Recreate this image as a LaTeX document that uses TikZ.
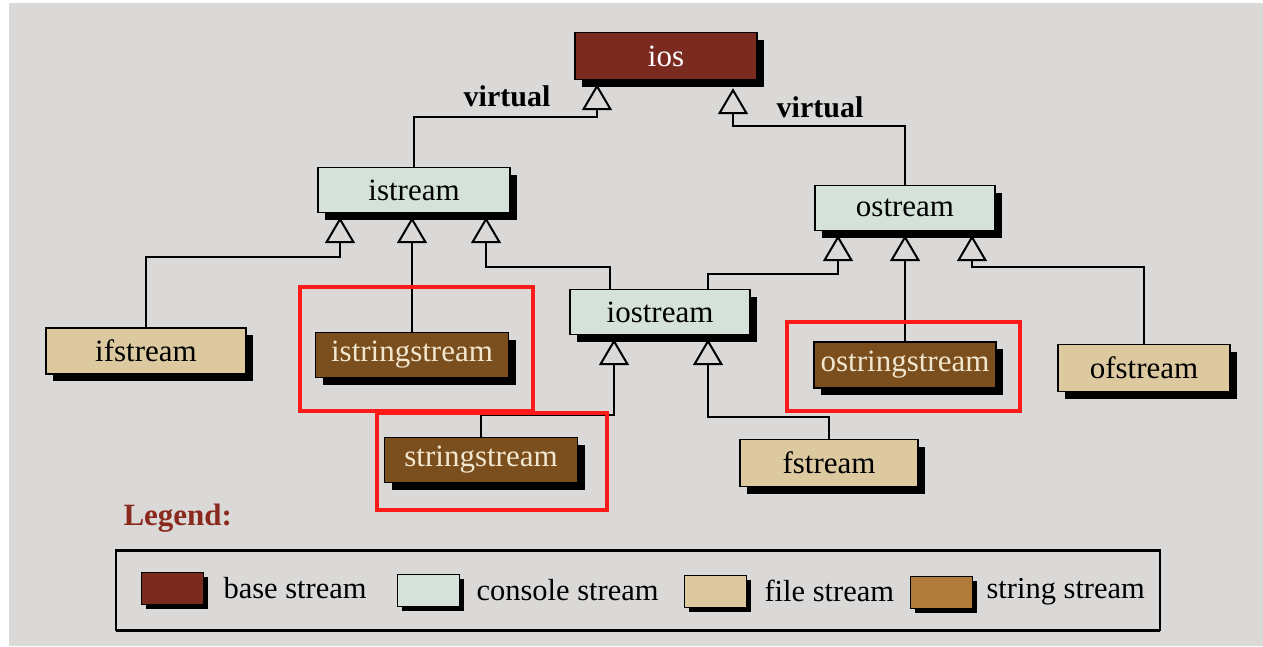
\documentclass[tikz,border=0pt]{standalone}
\usepackage{fontspec}
\setmainfont{Liberation Serif}
\usetikzlibrary{arrows.meta,shadows}

\definecolor{paper}{HTML}{DAD9D7}
\definecolor{basec}{HTML}{7A2A1F}
\definecolor{consc}{HTML}{D4E2DA}
\definecolor{filec}{HTML}{DCC99F}
\definecolor{strc}{HTML}{7B4E1E}
\definecolor{strswatch}{HTML}{B07A38}
\definecolor{strtext}{HTML}{F1E6CE}
\definecolor{legred}{HTML}{8A2A1E}
\definecolor{hl}{HTML}{FF1A1A}

\tikzset{
  cls/.style={draw=black, line width=1.4pt, inner sep=0pt, minimum height=45pt,
    font=\fontsize{31}{31}\selectfont,
    drop shadow={shadow xshift=7pt, shadow yshift=-7pt, opacity=1, fill=black}},
  basecls/.style={cls, fill=basec, text=white},
  conscls/.style={cls, fill=consc},
  filecls/.style={cls, fill=filec},
  strcls/.style={cls, fill=strc, text=strtext},
  inh/.style={line width=2pt,
    -{Triangle[open, width=30pt, length=26pt, line width=2pt]}},
  lbl/.style={font=\bfseries\fontsize{30}{30}\selectfont},
  highlight/.style={draw=hl, line width=4.5pt},
  swatch/.style={draw=black, line width=1pt, minimum width=62pt, minimum height=32pt,
    inner sep=0pt, drop shadow={shadow xshift=5pt, shadow yshift=-5pt, opacity=1, fill=black}},
  legtext/.style={anchor=west, font=\fontsize{30.5}{30.5}\selectfont}
}

\begin{document}
\begin{tikzpicture}[x=1pt, y=-1pt]
  % paper
  \fill[white] (0,0) rectangle (1263,646);
  \fill[paper] (9,3) rectangle (1263,646);
  \useasboundingbox (0,0) rectangle (1263,646);

  % classes
  \node[basecls, minimum width=182pt, minimum height=47pt] (ios) at (666,56) {ios};
  \node[conscls, minimum width=192pt] (istream) at (414,190) {istream};
  \node[conscls, minimum width=180pt] (ostream) at (905,208) {ostream};
  \node[filecls, minimum width=200pt, minimum height=46pt] (ifstream) at (146,351) {ifstream};
  \node[strcls, minimum width=193pt] (istringstream) at (412,355) {istringstream};
  \node[conscls, minimum width=180pt] (iostream) at (660,312) {iostream};
  \node[strcls, minimum width=193pt] (stringstream) at (481,460) {stringstream};
  \node[filecls, minimum width=178pt, minimum height=47pt] (fstream) at (829,463) {fstream};
  \node[strcls, minimum width=182pt, minimum height=46pt] (ostringstream) at (905,365) {ostringstream};
  \node[filecls, minimum width=172pt, minimum height=47pt] (ofstream) at (1144,368) {ofstream};

  % virtual inheritance from ios
  \draw[inh] (istream.north) -- ++(0,-50) -| ([xshift=-69pt,yshift=-4pt]ios.south);
  \draw[inh] (ostream.north) -- ++(0,-59) -| ([xshift=67pt,yshift=-8pt]ios.south);
  \node[lbl] (virtL) at (507,96) {virtual};
  \node[lbl] (virtR) at (820,107) {virtual};

  % derived from istream
  \draw[inh] (ifstream.north) -- ++(0,-70) -| ([xshift=-74pt,yshift=-4pt]istream.south);
  \draw[inh] (istringstream.north) -- ([xshift=-2pt,yshift=-4pt]istream.south);
  \draw[inh] ([xshift=-50pt]iostream.north) -- ++(0,-22) -| ([xshift=72pt,yshift=-4pt]istream.south);

  % derived from ostream
  \draw[inh] ([xshift=48pt]iostream.north) -- ++(0,-15) -| ([xshift=-67pt,yshift=-4pt]ostream.south);
  \draw[inh] (ostringstream.north) -- ([yshift=-4pt]ostream.south);
  \draw[inh] (ofstream.north) -- ++(0,-77) -| ([xshift=67pt,yshift=-4pt]ostream.south);

  % derived from iostream
  \draw[inh] (stringstream.north) -- ++(0,-22) -| ([xshift=-46pt,yshift=-4pt]iostream.south);
  \draw[inh] (fstream.north) -- ++(0,-22) -| ([xshift=48pt,yshift=-4pt]iostream.south);

  % red highlight frames
  \draw[highlight] (300,287) rectangle (533,411);
  \draw[highlight] (377,413) rectangle (607,510);
  \draw[highlight] (787,322) rectangle (1020,411);

  % legend
  \node[anchor=west, text=legred, font=\bfseries\fontsize{31}{31}\selectfont] (legtitle) at (120,518) {Legend:};
  \draw[line width=1.5pt] (116,550) rectangle (1160,630);
  \draw[line width=3pt] (116,550) -- (1160,550) (116,630) -- (1160,630);
  \node[swatch, fill=basec] (swbase) at (172,588) {};
  \node[legtext] (txbase) at (220,588) {base stream};
  \node[swatch, fill=consc] (swcons) at (428,590) {};
  \node[legtext] (txcons) at (473,590) {console stream};
  \node[swatch, fill=filec] (swfile) at (715,591) {};
  \node[legtext] (txfile) at (761,591) {file stream};
  \node[swatch, fill=strswatch] (swstr) at (941,592) {};
  \node[legtext] (txstr) at (983,592) {string stream};
\end{tikzpicture}
\end{document}
